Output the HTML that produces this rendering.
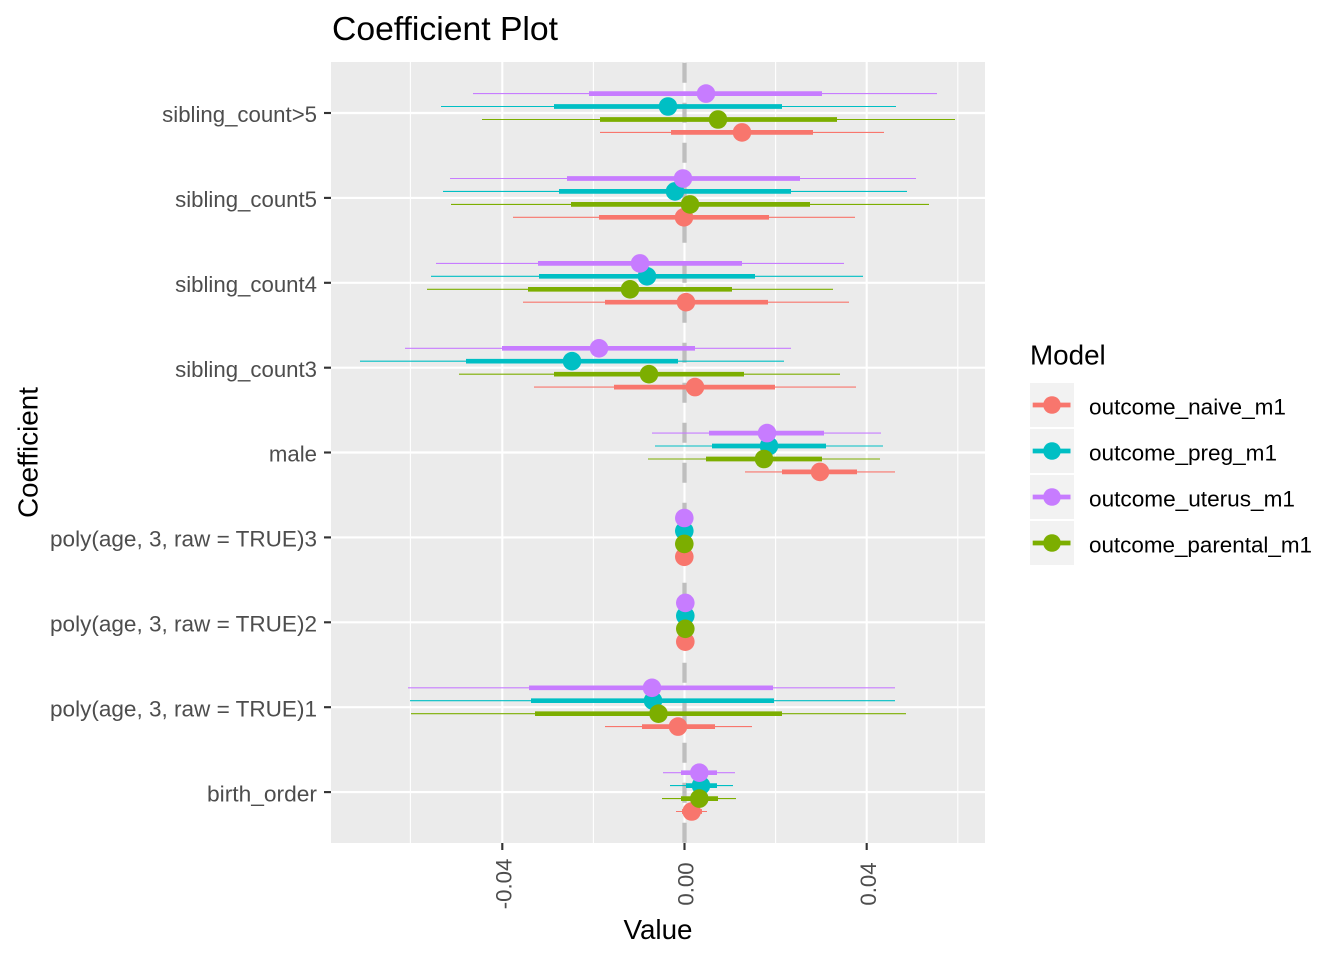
<!DOCTYPE html>
<html>
<head>
<meta charset="utf-8">
<style>
html,body{margin:0;padding:0;background:#fff;}
svg{display:block;}
text{font-family:"Liberation Sans",Arial,sans-serif;}
</style>
</head>
<body>
<svg width="1344" height="960" viewBox="0 0 1344 960" xmlns="http://www.w3.org/2000/svg">
<rect x="0" y="0" width="1344" height="960" fill="#ffffff"/>
<!-- title -->
<text x="332" y="40" font-size="33.4" fill="#000" textLength="226" lengthAdjust="spacingAndGlyphs">Coefficient Plot</text>
<!-- panel -->
<rect x="331" y="62" width="654" height="781" fill="#EBEBEB"/>
<!-- minor vertical grid -->
<g stroke="#ffffff" stroke-width="1.07">
<line x1="410.4" y1="62" x2="410.4" y2="843"/>
<line x1="593.4" y1="62" x2="593.4" y2="843"/>
<line x1="775.6" y1="62" x2="775.6" y2="843"/>
<line x1="957.8" y1="62" x2="957.8" y2="843"/>
</g>
<!-- major grid -->
<g stroke="#ffffff" stroke-width="2.13">
<line x1="502.3" y1="62" x2="502.3" y2="843"/>
<line x1="684.5" y1="62" x2="684.5" y2="843"/>
<line x1="866.7" y1="62" x2="866.7" y2="843"/>
<line x1="331" y1="113.0" x2="985" y2="113.0"/>
<line x1="331" y1="197.9" x2="985" y2="197.9"/>
<line x1="331" y1="282.8" x2="985" y2="282.8"/>
<line x1="331" y1="367.7" x2="985" y2="367.7"/>
<line x1="331" y1="452.5" x2="985" y2="452.5"/>
<line x1="331" y1="537.4" x2="985" y2="537.4"/>
<line x1="331" y1="622.3" x2="985" y2="622.3"/>
<line x1="331" y1="707.2" x2="985" y2="707.2"/>
<line x1="331" y1="792.1" x2="985" y2="792.1"/>
</g>
<!-- zero dashed line -->
<line x1="684.5" y1="62.7" x2="684.5" y2="843" stroke="#BEBEBE" stroke-width="4.3" stroke-dasharray="20 20"/>

<!-- thin (outer) intervals -->
<g stroke-width="1.1">
<g stroke="#F8766D">
<line x1="600" y1="132.4" x2="884" y2="132.4"/>
<line x1="513" y1="217.3" x2="855" y2="217.3"/>
<line x1="523" y1="302.2" x2="849" y2="302.2"/>
<line x1="534" y1="387.1" x2="856" y2="387.1"/>
<line x1="745" y1="471.9" x2="895" y2="471.9"/>
<line x1="683" y1="556.8" x2="686" y2="556.8"/>
<line x1="684" y1="641.7" x2="687" y2="641.7"/>
<line x1="605" y1="726.6" x2="752" y2="726.6"/>
<line x1="676" y1="811.5" x2="707" y2="811.5"/>
</g>
<g stroke="#00BFC4">
<line x1="441" y1="106.5" x2="896" y2="106.5"/>
<line x1="443" y1="191.4" x2="907" y2="191.4"/>
<line x1="431" y1="276.3" x2="863" y2="276.3"/>
<line x1="360" y1="361.2" x2="784" y2="361.2"/>
<line x1="655" y1="446.0" x2="883" y2="446.0"/>
<line x1="683" y1="530.9" x2="686" y2="530.9"/>
<line x1="684" y1="615.8" x2="687" y2="615.8"/>
<line x1="410" y1="700.7" x2="895" y2="700.7"/>
<line x1="670" y1="785.6" x2="733" y2="785.6"/>
</g>
<g stroke="#C77CFF">
<line x1="473" y1="93.6" x2="937" y2="93.6"/>
<line x1="450" y1="178.5" x2="916" y2="178.5"/>
<line x1="436" y1="263.4" x2="844" y2="263.4"/>
<line x1="405" y1="348.3" x2="791" y2="348.3"/>
<line x1="652" y1="433.1" x2="881" y2="433.1"/>
<line x1="683" y1="518.0" x2="686" y2="518.0"/>
<line x1="684" y1="602.9" x2="687" y2="602.9"/>
<line x1="408" y1="687.8" x2="895" y2="687.8"/>
<line x1="663" y1="772.7" x2="735" y2="772.7"/>
</g>
<g stroke="#7CAE00">
<line x1="482" y1="119.5" x2="955" y2="119.5"/>
<line x1="451" y1="204.4" x2="929" y2="204.4"/>
<line x1="427" y1="289.3" x2="833" y2="289.3"/>
<line x1="459" y1="374.2" x2="840" y2="374.2"/>
<line x1="648" y1="459.0" x2="880" y2="459.0"/>
<line x1="683" y1="543.9" x2="686" y2="543.9"/>
<line x1="684" y1="628.8" x2="687" y2="628.8"/>
<line x1="411" y1="713.7" x2="906" y2="713.7"/>
<line x1="662" y1="798.6" x2="736" y2="798.6"/>
</g>
</g>

<!-- thick (inner) intervals -->
<g stroke-width="4.7">
<g stroke="#F8766D">
<line x1="671" y1="132.4" x2="813" y2="132.4"/>
<line x1="599" y1="217.3" x2="769" y2="217.3"/>
<line x1="605" y1="302.2" x2="768" y2="302.2"/>
<line x1="614" y1="387.1" x2="775" y2="387.1"/>
<line x1="782" y1="471.9" x2="857" y2="471.9"/>
<line x1="642" y1="726.6" x2="715" y2="726.6"/>
<line x1="682" y1="811.5" x2="702" y2="811.5"/>
</g>
<g stroke="#00BFC4">
<line x1="554" y1="106.5" x2="782" y2="106.5"/>
<line x1="559" y1="191.4" x2="791" y2="191.4"/>
<line x1="539" y1="276.3" x2="755" y2="276.3"/>
<line x1="466" y1="361.2" x2="678" y2="361.2"/>
<line x1="712" y1="446.0" x2="826" y2="446.0"/>
<line x1="531" y1="700.7" x2="774" y2="700.7"/>
<line x1="686" y1="785.6" x2="717" y2="785.6"/>
</g>
<g stroke="#C77CFF">
<line x1="589" y1="93.6" x2="822" y2="93.6"/>
<line x1="567" y1="178.5" x2="800" y2="178.5"/>
<line x1="538" y1="263.4" x2="742" y2="263.4"/>
<line x1="502" y1="348.3" x2="695" y2="348.3"/>
<line x1="709" y1="433.1" x2="824" y2="433.1"/>
<line x1="529" y1="687.8" x2="773" y2="687.8"/>
<line x1="681" y1="772.7" x2="717" y2="772.7"/>
</g>
<g stroke="#7CAE00">
<line x1="600" y1="119.5" x2="837" y2="119.5"/>
<line x1="571" y1="204.4" x2="810" y2="204.4"/>
<line x1="528" y1="289.3" x2="732" y2="289.3"/>
<line x1="554" y1="374.2" x2="744" y2="374.2"/>
<line x1="706" y1="459.0" x2="822" y2="459.0"/>
<line x1="535" y1="713.7" x2="782" y2="713.7"/>
<line x1="681" y1="798.6" x2="718" y2="798.6"/>
</g>
</g>

<!-- points -->
<g fill="#F8766D">
<circle cx="742" cy="132.4" r="9.3"/>
<circle cx="684" cy="217.3" r="9.3"/>
<circle cx="686" cy="302.2" r="9.3"/>
<circle cx="695" cy="387.1" r="9.3"/>
<circle cx="820" cy="471.9" r="9.3"/>
<circle cx="684.3" cy="556.8" r="9.3"/>
<circle cx="685.3" cy="641.7" r="9.3"/>
<circle cx="678" cy="726.6" r="9.3"/>
<circle cx="691.7" cy="811.5" r="9.3"/>
</g>
<g fill="#00BFC4">
<circle cx="668" cy="106.5" r="9.3"/>
<circle cx="675" cy="191.4" r="9.3"/>
<circle cx="647" cy="276.3" r="9.3"/>
<circle cx="572" cy="361.2" r="9.3"/>
<circle cx="769" cy="446.0" r="9.3"/>
<circle cx="684.3" cy="530.9" r="9.3"/>
<circle cx="685.3" cy="615.8" r="9.3"/>
<circle cx="653" cy="700.7" r="9.3"/>
<circle cx="701" cy="785.6" r="9.3"/>
</g>
<g fill="#C77CFF">
<circle cx="706" cy="93.6" r="9.3"/>
<circle cx="683" cy="178.5" r="9.3"/>
<circle cx="640" cy="263.4" r="9.3"/>
<circle cx="599" cy="348.3" r="9.3"/>
<circle cx="767" cy="433.1" r="9.3"/>
<circle cx="684.3" cy="518.0" r="9.3"/>
<circle cx="685.3" cy="602.9" r="9.3"/>
<circle cx="652" cy="687.8" r="9.3"/>
<circle cx="699.3" cy="772.7" r="9.3"/>
</g>
<g fill="#7CAE00">
<circle cx="718" cy="119.5" r="9.3"/>
<circle cx="690" cy="204.4" r="9.3"/>
<circle cx="630" cy="289.3" r="9.3"/>
<circle cx="649" cy="374.2" r="9.3"/>
<circle cx="764" cy="459.0" r="9.3"/>
<circle cx="684.3" cy="543.9" r="9.3"/>
<circle cx="685.3" cy="628.8" r="9.3"/>
<circle cx="658.5" cy="713.7" r="9.3"/>
<circle cx="699.3" cy="798.6" r="9.3"/>
</g>

<!-- ticks -->
<g stroke="#333333" stroke-width="2.13">
<line x1="324" y1="113.0" x2="331" y2="113.0"/>
<line x1="324" y1="197.9" x2="331" y2="197.9"/>
<line x1="324" y1="282.8" x2="331" y2="282.8"/>
<line x1="324" y1="367.7" x2="331" y2="367.7"/>
<line x1="324" y1="452.5" x2="331" y2="452.5"/>
<line x1="324" y1="537.4" x2="331" y2="537.4"/>
<line x1="324" y1="622.3" x2="331" y2="622.3"/>
<line x1="324" y1="707.2" x2="331" y2="707.2"/>
<line x1="324" y1="792.1" x2="331" y2="792.1"/>
<line x1="502.3" y1="843" x2="502.3" y2="850"/>
<line x1="684.5" y1="843" x2="684.5" y2="850"/>
<line x1="866.7" y1="843" x2="866.7" y2="850"/>
</g>
<!-- y tick labels -->
<g font-size="22.2" fill="#4D4D4D" text-anchor="end">
<text x="317" y="122.2">sibling_count&gt;5</text>
<text x="317" y="207.1">sibling_count5</text>
<text x="317" y="292.0">sibling_count4</text>
<text x="317" y="376.9">sibling_count3</text>
<text x="317" y="461.7">male</text>
<text x="317" y="546.6" textLength="267" lengthAdjust="spacingAndGlyphs">poly(age, 3, raw = TRUE)3</text>
<text x="317" y="631.5" textLength="267" lengthAdjust="spacingAndGlyphs">poly(age, 3, raw = TRUE)2</text>
<text x="317" y="716.4" textLength="267" lengthAdjust="spacingAndGlyphs">poly(age, 3, raw = TRUE)1</text>
<text x="317" y="801.3" textLength="110" lengthAdjust="spacingAndGlyphs">birth_order</text>
</g>
<!-- x tick labels (rotated) -->
<g font-size="22.2" fill="#4D4D4D" text-anchor="middle">
<text transform="translate(511.5,884) rotate(-90)" x="0" y="0">-0.04</text>
<text transform="translate(693.7,884) rotate(-90)" x="0" y="0">0.00</text>
<text transform="translate(875.9,884) rotate(-90)" x="0" y="0">0.04</text>
</g>
<!-- axis titles -->
<text x="658" y="939" font-size="27.8" fill="#000" text-anchor="middle">Value</text>
<text transform="translate(37.3,452.5) rotate(-90)" x="0" y="0" font-size="27.8" fill="#000" text-anchor="middle">Coefficient</text>

<!-- legend -->
<text x="1030" y="364.3" font-size="27.8" fill="#000">Model</text>
<g fill="#F2F2F2">
<rect x="1030" y="383" width="44" height="44"/>
<rect x="1030" y="429" width="44" height="44"/>
<rect x="1030" y="475" width="44" height="44"/>
<rect x="1030" y="521" width="44" height="44"/>
</g>
<g stroke-width="4.7">
<line x1="1032.7" y1="405" x2="1070.5" y2="405" stroke="#F8766D"/>
<line x1="1032.7" y1="451" x2="1070.5" y2="451" stroke="#00BFC4"/>
<line x1="1032.7" y1="497" x2="1070.5" y2="497" stroke="#C77CFF"/>
<line x1="1032.7" y1="543" x2="1070.5" y2="543" stroke="#7CAE00"/>
</g>
<circle cx="1052" cy="405" r="8.8" fill="#F8766D"/>
<circle cx="1052" cy="451" r="8.8" fill="#00BFC4"/>
<circle cx="1052" cy="497" r="8.8" fill="#C77CFF"/>
<circle cx="1052" cy="543" r="8.8" fill="#7CAE00"/>
<g font-size="22.2" fill="#000" lengthAdjust="spacingAndGlyphs">
<text x="1089" y="414.5" textLength="197" lengthAdjust="spacingAndGlyphs">outcome_naive_m1</text>
<text x="1089" y="460.5" textLength="188" lengthAdjust="spacingAndGlyphs">outcome_preg_m1</text>
<text x="1089" y="506.5" textLength="206" lengthAdjust="spacingAndGlyphs">outcome_uterus_m1</text>
<text x="1089" y="552.5" textLength="223" lengthAdjust="spacingAndGlyphs">outcome_parental_m1</text>
</g>
</svg>
</body>
</html>
